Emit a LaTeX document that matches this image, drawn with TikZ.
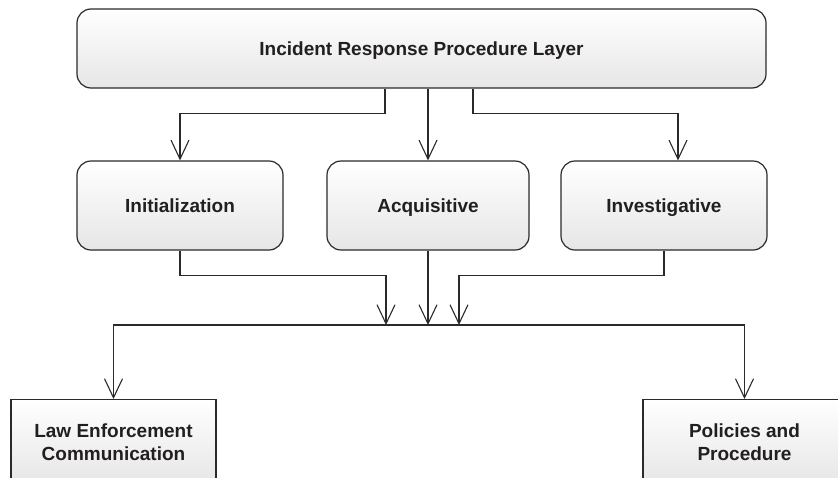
\documentclass[tikz,border=0pt]{standalone}
\usepackage{fontspec}
\setmainfont{Liberation Sans}
\usetikzlibrary{arrows.meta}
\definecolor{edge}{HTML}{2A2A2A}
\definecolor{ink}{HTML}{231F20}
\definecolor{fillbot}{HTML}{E6E6E6}
\begin{document}
\begin{tikzpicture}[x=1pt,y=-1pt,
  box/.style={draw=edge, line width=1.2pt, top color=white, bottom color=fillbot,
    text=ink, font=\fontsize{19}{23}\selectfont\bfseries, align=center, inner sep=0pt},
  rbox/.style={box, rounded corners=14pt, text height=14pt, text depth=0pt},
  link/.style={draw=edge, line width=1.1pt, -{Straight Barb[length=19pt,width=18pt]}}]
\clip (0,0) rectangle (838,477);

% layer and phases
\node[rbox, minimum width=689pt, minimum height=79pt] (layer) at (421.5,48.5) {Incident Response Procedure Layer};
\node[rbox, minimum width=206pt, minimum height=89pt] (init) at (180,205.5) {Initialization};
\node[rbox, minimum width=202pt, minimum height=89pt] (acq) at (428,205.5) {Acquisitive};
\node[rbox, minimum width=206pt, minimum height=89pt] (inv) at (664,205.5) {Investigative};

% outcome boxes
\node[box, anchor=north, minimum width=205pt, minimum height=85pt] (law) at (113.5,399) {Law Enforcement\\Communication};
\node[box, anchor=north, minimum width=203pt, minimum height=85pt] (pol) at (744.5,399) {Policies and\\Procedure};

% merge points on the bus
\coordinate (m1) at (386,325);
\coordinate (m2) at (428,325);
\coordinate (m3) at (459,325);

% layer to phases
\draw[link] ([xshift=-36.5pt]layer.south) -- ++(0,25) -| (init.north);
\draw[link] (layer.south -| acq.north) -- (acq.north);
\draw[link] ([xshift=51.5pt]layer.south) -- ++(0,25) -| ([xshift=14pt]inv.north);

% phases to bus
\draw[link] (init.south) -- ++(0,25) -| (m1);
\draw[link] (acq.south) -- (m2);
\draw[link] (inv.south) -- ++(0,25) -| (m3);

% bus to outcomes
\draw[link] (m3) -| (law.north);
\draw[link] (m1) -| (pol.north);
\end{tikzpicture}
\end{document}
